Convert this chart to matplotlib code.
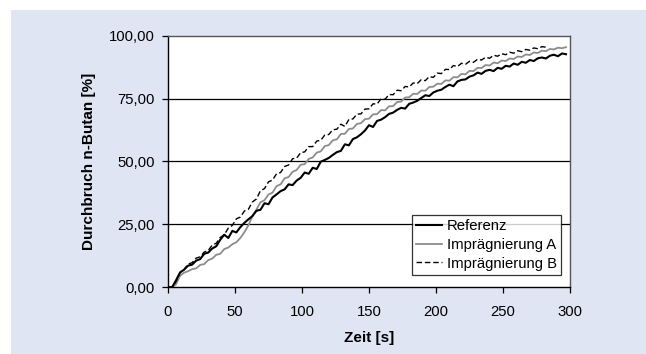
import matplotlib
matplotlib.use("Agg")
import matplotlib.pyplot as plt
from matplotlib.patches import Rectangle
from matplotlib.ticker import FuncFormatter

plt.rcParams['font.family'] = ['Liberation Sans', 'DejaVu Sans']

# Zeitachse in Sekunden (Messintervall 3 s)
zeit = list(range(0, 300, 3))

# Durchbruch n-Butan [%]
referenz = [
    0.0, 0.0, 2.8, 5.9, 7.0, 8.6, 9.0, 10.6, 11.2, 13.3,
    13.8, 15.4, 16.3, 18.9, 20.9, 19.6, 22.4, 21.8, 23.9, 25.6,
    27.0, 28.3, 30.4, 30.8, 33.4, 33.0, 35.7, 36.9, 38.2, 38.9,
    40.9, 40.6, 42.4, 43.5, 45.6, 45.1, 47.5, 47.0, 49.9, 50.6,
    51.4, 52.6, 53.7, 54.2, 56.8, 56.4, 58.9, 59.6, 60.8, 62.3,
    64.4, 63.7, 66.1, 66.6, 67.6, 68.9, 69.4, 70.5, 71.3, 71.0,
    72.9, 73.4, 74.1, 75.2, 76.3, 76.0, 77.4, 78.1, 78.5, 79.6,
    80.5, 79.9, 81.8, 82.4, 82.6, 83.7, 84.2, 85.3, 84.8, 86.0,
    86.4, 85.9, 87.2, 86.8, 88.0, 87.7, 88.9, 88.4, 89.6, 89.2,
    90.3, 89.9, 91.0, 91.3, 90.9, 92.0, 92.4, 91.8, 92.9, 92.6,
]

impraegnierung_a = [
    0.0, 0.0, 1.2, 4.6, 5.8, 6.4, 7.2, 7.5, 8.9, 9.2,
    10.8, 11.4, 12.9, 13.3, 15.2, 15.8, 17.1, 17.9, 19.6, 21.9,
    24.6, 28.3, 30.9, 33.8, 34.6, 36.9, 37.6, 40.2, 40.9, 43.3,
    43.8, 45.9, 46.6, 48.7, 48.9, 51.0, 51.6, 53.5, 54.0, 56.1,
    56.5, 58.4, 58.8, 60.9, 61.0, 62.9, 63.1, 64.9, 65.2, 66.8,
    67.0, 68.7, 68.8, 70.4, 70.3, 71.9, 72.0, 73.6, 73.8, 75.4,
    75.5, 76.9, 76.8, 78.2, 78.1, 79.6, 79.7, 80.9, 80.8, 82.2,
    82.1, 83.5, 83.4, 84.8, 84.6, 86.0, 85.9, 87.2, 87.1, 88.3,
    88.1, 89.3, 89.0, 90.1, 89.9, 90.9, 90.7, 91.7, 91.5, 92.5,
    92.3, 93.3, 93.1, 94.0, 93.8, 94.7, 94.5, 95.2, 95.0, 95.4,
]

impraegnierung_b = [
    0.0, 0.0, 2.3, 5.8, 7.1, 9.2, 9.8, 11.6, 12.1, 14.0,
    14.6, 16.8, 17.5, 19.8, 20.9, 23.5, 24.6, 27.2, 27.9, 30.3,
    31.0, 33.9, 35.1, 38.4, 39.2, 41.9, 42.6, 45.1, 45.6, 48.0,
    48.6, 51.1, 51.3, 53.5, 53.8, 55.9, 55.9, 58.1, 58.4, 60.5,
    60.7, 62.6, 62.8, 64.8, 63.9, 66.7, 66.9, 68.8, 68.9, 70.8,
    70.9, 72.9, 72.8, 74.9, 74.7, 76.6, 76.5, 78.3, 78.1, 79.8,
    79.6, 81.2, 80.9, 82.5, 82.1, 83.7, 83.4, 85.1, 84.9, 86.6,
    86.5, 88.1, 87.7, 89.0, 88.6, 89.8, 89.4, 90.6, 90.3, 91.4,
    91.0, 92.2, 91.8, 92.8, 92.4, 93.4, 93.0, 94.0, 93.6, 94.5,
    94.2, 95.1, 94.8, 95.6, 95.4,
]

x_ticks = [0, 50, 100, 150, 200, 250, 300]
y_ticks = [0, 25, 50, 75, 100]

fig = plt.figure(figsize=(6.46, 3.54), dpi=100, facecolor='white')
fig.add_artist(Rectangle((11 / 646, 0), 1 - 11 / 646, 1 - 10 / 354,
                         transform=fig.transFigure, facecolor='#dfe5f3',
                         edgecolor='none', zorder=-10))

ax = fig.add_axes([168 / 646, 1 - 287.3 / 354, 402 / 646, 251.7 / 354])
ax.set_facecolor('white')

ax.plot(zeit, referenz, color='black', lw=1.5, label='Referenz', zorder=3)
ax.plot(zeit, impraegnierung_a, color='#8c8c8c', lw=1.3,
        label='Imprägnierung A', zorder=2)
ax.plot(zeit[:len(impraegnierung_b)], impraegnierung_b, color='black', lw=1.0,
        linestyle=(0, (4, 2)), label='Imprägnierung B', zorder=4)

ax.set_xlim(0, 300)
ax.set_ylim(0, 100)
ax.set_xticks(x_ticks)
ax.set_yticks(y_ticks)
ax.yaxis.set_major_formatter(FuncFormatter(lambda v, p: f"{v:.2f}".replace('.', ',')))

for y in y_ticks[1:-1]:
    ax.axhline(y, color='black', lw=0.9, zorder=1)

ax.tick_params(direction='out', length=4.5, width=0.9, labelsize=10.7,
               colors='black')
ax.tick_params(axis='x', pad=8)
ax.tick_params(axis='y', pad=5)
for side in ['left', 'bottom']:
    ax.spines[side].set_color('black')
    ax.spines[side].set_linewidth(1.0)
for side in ['top', 'right']:
    ax.spines[side].set_color('#555555')
    ax.spines[side].set_linewidth(1.0)

ax.set_xlabel('Zeit [s]', fontsize=11, fontweight='bold', labelpad=9)
ax.set_ylabel('Durchbruch n-Butan [%]', fontsize=11, fontweight='bold', labelpad=9)

leg = ax.legend(loc='lower right', bbox_to_anchor=(0.978, 0.049),
                fancybox=False, frameon=True, edgecolor='black',
                fontsize=10.7, handlelength=1.75, handletextpad=0.3,
                borderpad=0.3, labelspacing=0.32, borderaxespad=0)
leg.get_frame().set_linewidth(0.9)

fig.savefig('out.png', dpi=100, facecolor=fig.get_facecolor())
